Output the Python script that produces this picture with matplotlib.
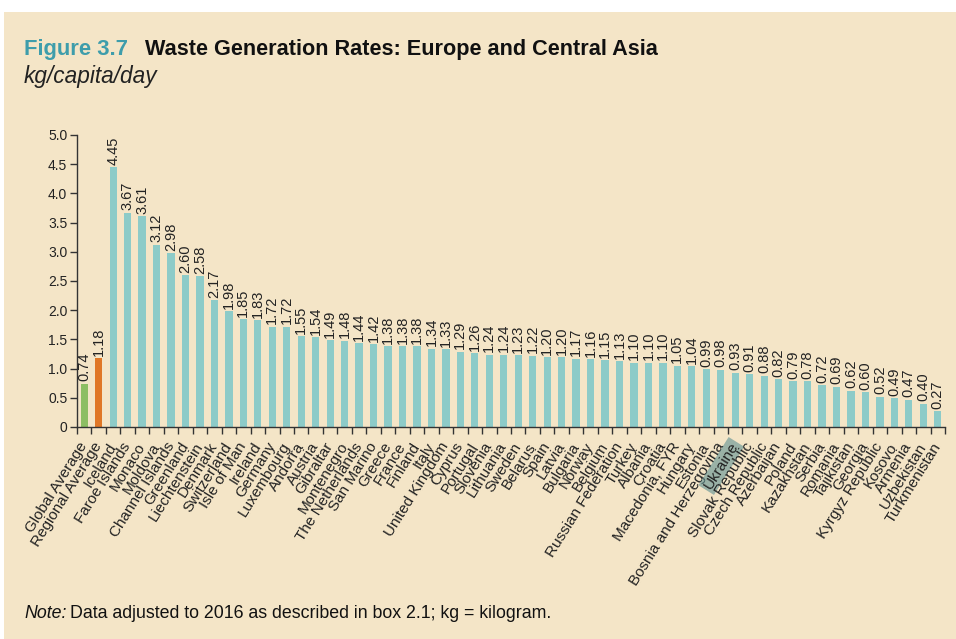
import matplotlib.pyplot as plt
import matplotlib.patches as mpatches
import numpy as np

countries = [
    "Global Average", "Regional Average", "Iceland", "Faroe Islands", "Monaco",
    "Moldova", "Channel Islands", "Greenland", "Liechtenstein", "Denmark",
    "Switzerland", "Isle of Man", "Ireland", "Germany", "Luxembourg",
    "Andorra", "Austria", "Gibraltar", "Montenegro", "The Netherlands",
    "San Marino", "Greece", "France", "Finland", "Italy",
    "United Kingdom", "Cyprus", "Portugal", "Slovenia", "Lithuania",
    "Sweden", "Belarus", "Spain", "Latvia", "Bulgaria",
    "Norway", "Belgium", "Russian Federation", "Turkey", "Albania",
    "Croatia", "Macedonia, FYR", "Hungary", "Estonia", "Bosnia and Herzegovina",
    "Ukraine", "Slovak Republic", "Czech Republic", "Azerbaijan", "Poland",
    "Kazakhstan", "Serbia", "Romania", "Tajikistan", "Georgia",
    "Kyrgyz Republic", "Kosovo", "Armenia", "Uzbekistan", "Turkmenistan",
]
rates = [
    0.74, 1.18, 4.45, 3.67, 3.61,
    3.12, 2.98, 2.60, 2.58, 2.17,
    1.98, 1.85, 1.83, 1.72, 1.72,
    1.55, 1.54, 1.49, 1.48, 1.44,
    1.42, 1.38, 1.38, 1.38, 1.34,
    1.33, 1.29, 1.26, 1.24, 1.24,
    1.23, 1.22, 1.20, 1.20, 1.17,
    1.16, 1.15, 1.13, 1.10, 1.10,
    1.10, 1.05, 1.04, 0.99, 0.98,
    0.93, 0.91, 0.88, 0.82, 0.79,
    0.78, 0.72, 0.69, 0.62, 0.60,
    0.52, 0.49, 0.47, 0.40, 0.27,
]
yticks = [0, 0.5, 1.0, 1.5, 2.0, 2.5, 3.0, 3.5, 4.0, 4.5, 5.0]
ytick_labels = ["0", "0.5", "1.0", "1.5", "2.0", "2.5", "3.0", "3.5", "4.0", "4.5", "5.0"]

BG = "#F4E5C7"
TEAL = "#8DCBC8"
GREEN = "#8DBE63"
ORANGE = "#E07726"
AXIS = "#333333"

plt.rcParams["font.family"] = ["Liberation Sans", "DejaVu Sans"]

fig = plt.figure(figsize=(9.56, 6.39), dpi=100, facecolor="white")
# beige panel (image has a thin white strip at top/left)
fig.patches.append(mpatches.Rectangle((4 / 956, 0), 1, 1 - 12 / 639,
                                      transform=fig.transFigure,
                                      facecolor=BG, edgecolor="none", zorder=-10))

ax = fig.add_axes([77 / 956, 1 - 427 / 639, 868 / 956, (427 - 135) / 639])
ax.set_facecolor("none")

x = np.arange(len(countries))
colors = [GREEN, ORANGE] + [TEAL] * (len(countries) - 2)
ax.bar(x, rates, width=0.5, color=colors, zorder=2)

for xi, v in zip(x, rates):
    ax.text(xi, v + 0.04, f"{v:.2f}", rotation=90, ha="center", va="bottom",
            fontsize=10.5, color="#222222")

ax.set_xlim(-0.5, len(countries) - 0.5)
ax.set_ylim(0, 5.0)
ax.set_yticks(yticks)
ax.set_yticklabels(ytick_labels, fontsize=10, color="#222222")

ax.set_xticks(x)
ax.set_xticklabels(countries, rotation=58, ha="right", va="center",
                   rotation_mode="anchor", fontsize=11, color="#222222")
ax.set_xticks(np.arange(-0.5, len(countries), 1.0), minor=True)
ax.tick_params(axis="x", which="major", length=0, pad=12)
ax.tick_params(axis="x", which="minor", length=5, width=1, color=AXIS, direction="out")
ax.tick_params(axis="y", length=5, width=1, color=AXIS, direction="out", pad=2)

for side in ["top", "right"]:
    ax.spines[side].set_visible(False)
for side in ["left", "bottom"]:
    ax.spines[side].set_color(AXIS)
    ax.spines[side].set_linewidth(1)

# highlight box on the Ukraine label, as in the source scan
for lbl in ax.get_xticklabels():
    if lbl.get_text() == "Ukraine":
        lbl.set_bbox(dict(facecolor="#5E9192", alpha=0.6, edgecolor="none", pad=1.5))

fig.text(24 / 956, 1 - 50 / 639, "Figure 3.7", fontweight="bold", fontsize=15.8,
         color="#3E9DAB", va="center")
fig.text(145 / 956, 1 - 50 / 639, "Waste Generation Rates: Europe and Central Asia",
         fontweight="bold", fontsize=15.6, color="#111111", va="center")
fig.text(24 / 956, 1 - 77 / 639, "kg/capita/day", style="italic", fontsize=16.3,
         color="#222222", va="center")

fig.text(24 / 956, 1 - 614 / 639, "Note:", style="italic", fontsize=12.8,
         color="#111111", va="center")
fig.text(70 / 956, 1 - 614 / 639, "Data adjusted to 2016 as described in box 2.1; kg = kilogram.",
         fontsize=12.8, color="#111111", va="center")

fig.savefig("out.png", dpi=100, facecolor=fig.get_facecolor())
